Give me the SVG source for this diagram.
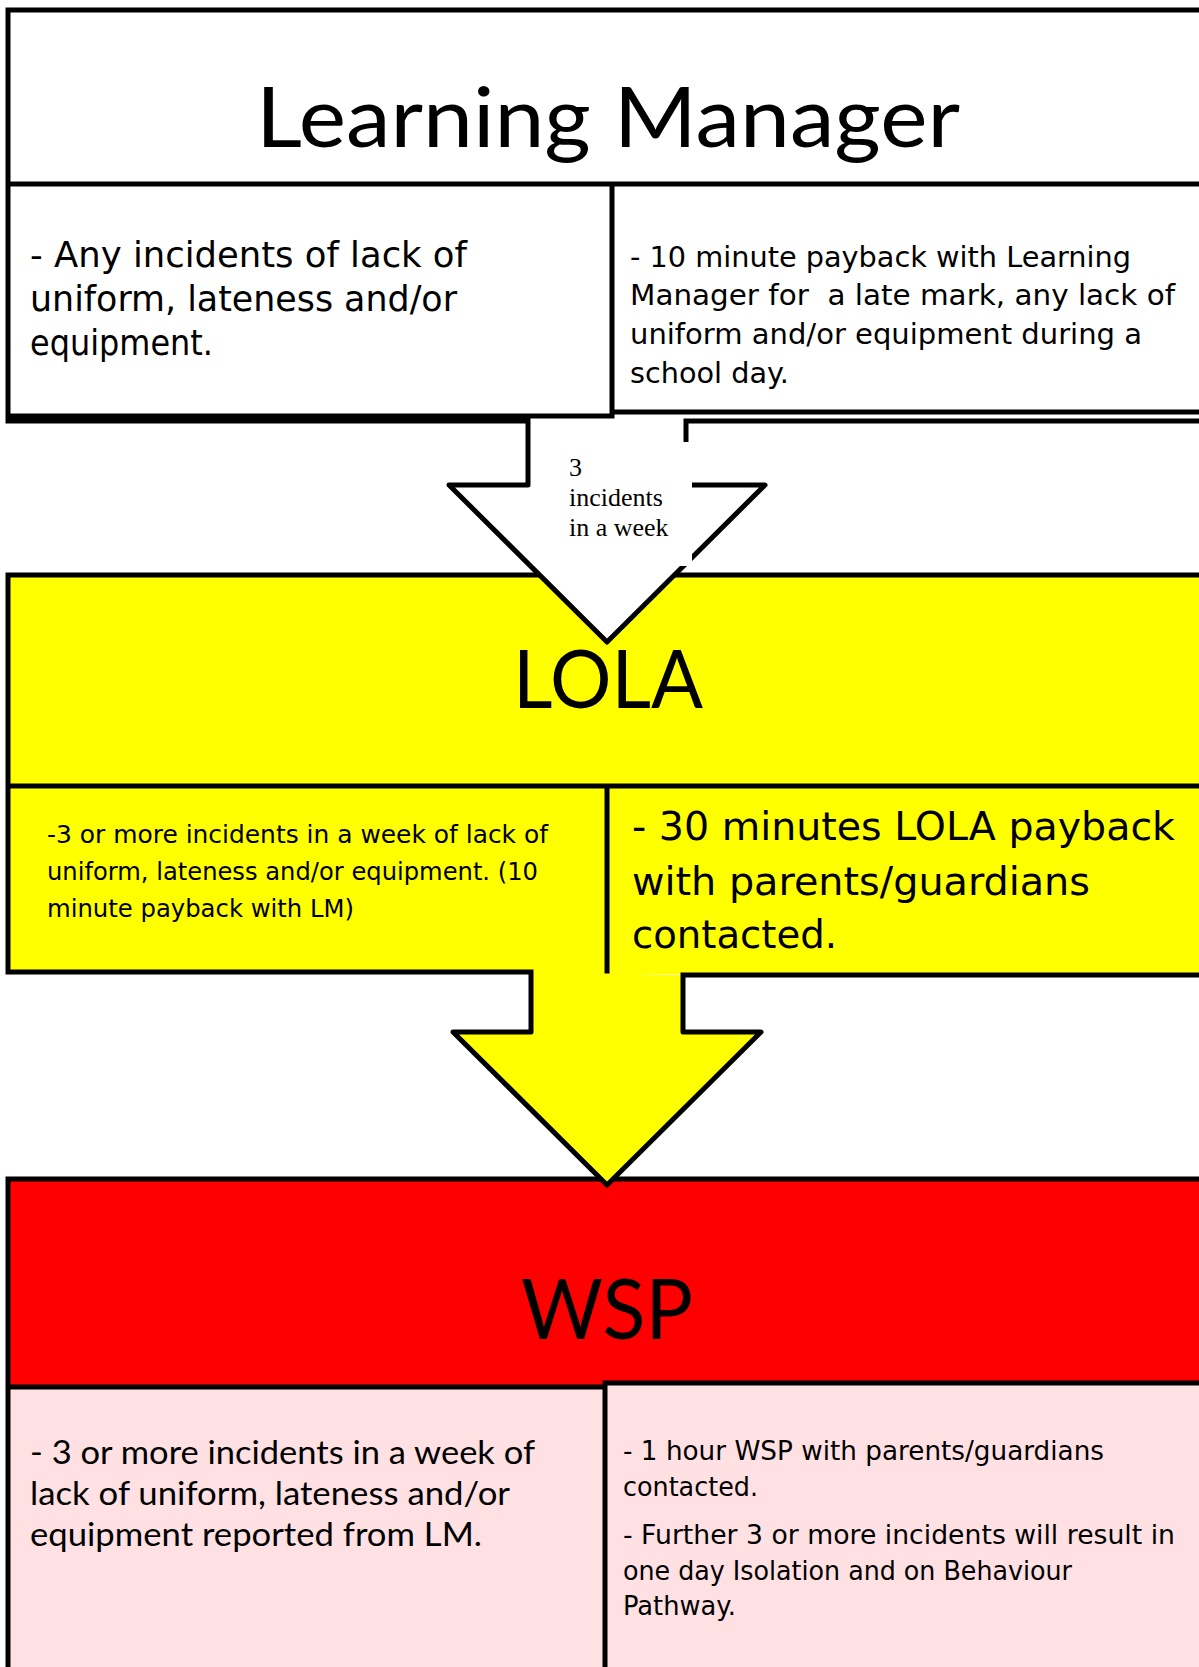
<svg xmlns="http://www.w3.org/2000/svg" width="1199" height="1667" viewBox="0 0 1199 1667">
<style>
.ln{fill:none;stroke:#000;stroke-width:5;stroke-linejoin:round;stroke-linecap:square}
.hd{font-family:Lato,"Noto Sans",sans-serif;fill:#000;text-anchor:middle}
.cm{font-family:"DejaVu Sans",sans-serif;fill:#000}
.cb{font-family:Lato,"Noto Sans",sans-serif;fill:#000;font-size:32px}
.lb{font-family:"Liberation Serif","Times New Roman",serif;font-size:26px;fill:#000}
</style>
<rect x="0" y="0" width="1199" height="1667" fill="#fff"/>

<g id="learning-manager">
  <rect x="8" y="10" width="1200" height="405" fill="#fff"/>
  <path class="ln" d="M8,10 H1210 M8,10 V416 M8,184 H1210 M612,184 V416 M8,416 H612 M612,412 H1210 M8,421 H528 M686,421 H1210"/>
  <text class="hd" x="608" y="147" font-size="84" textLength="704" lengthAdjust="spacingAndGlyphs">Learning Manager</text>
  <g class="cm" font-size="35">
    <text x="30" y="267" textLength="437" lengthAdjust="spacingAndGlyphs">- Any incidents of lack of</text>
    <text x="30" y="311" textLength="427" lengthAdjust="spacingAndGlyphs">uniform, lateness and/or</text>
    <text x="30" y="355" textLength="183" lengthAdjust="spacingAndGlyphs">equipment.</text>
  </g>
  <g class="cm" font-size="28.5">
    <text x="630" y="267" textLength="501" lengthAdjust="spacingAndGlyphs">- 10 minute payback with Learning</text>
    <text x="630" y="305" textLength="545" lengthAdjust="spacingAndGlyphs" xml:space="preserve">Manager for  a late mark, any lack of</text>
    <text x="630" y="344" textLength="512" lengthAdjust="spacingAndGlyphs">uniform and/or equipment during a</text>
    <text x="630" y="383" textLength="159" lengthAdjust="spacingAndGlyphs">school day.</text>
  </g>
</g>

<g id="wsp">
  <rect x="8" y="1179" width="1200" height="210" fill="#f00"/>
  <rect x="8" y="1385" width="597" height="290" fill="#ffe1e4"/>
  <rect x="605" y="1383" width="605" height="292" fill="#ffe1e4"/>
  <path class="ln" d="M8,1179 H1210 M8,1179 V1672 M8,1387 H605 M605,1383 H1210 M605,1383 V1672"/>
  <text class="hd" x="607" y="1339" font-size="84" textLength="172" lengthAdjust="spacingAndGlyphs">WSP</text>
  <g class="cb">
    <text x="30" y="1464" textLength="505" lengthAdjust="spacingAndGlyphs">- 3 or more incidents in a week of</text>
    <text x="30" y="1505" textLength="480" lengthAdjust="spacingAndGlyphs">lack of uniform, lateness and/or</text>
    <text x="30" y="1546" textLength="452" lengthAdjust="spacingAndGlyphs">equipment reported from LM.</text>
  </g>
  <g class="cm" font-size="26">
    <text x="623" y="1460" textLength="481" lengthAdjust="spacingAndGlyphs">- 1 hour WSP with parents/guardians</text>
    <text x="623" y="1496" textLength="135" lengthAdjust="spacingAndGlyphs">contacted.</text>
    <text x="623" y="1544" textLength="552" lengthAdjust="spacingAndGlyphs">- Further 3 or more incidents will result in</text>
    <text x="623" y="1580" textLength="449" lengthAdjust="spacingAndGlyphs">one day Isolation and on Behaviour</text>
    <text x="623" y="1615" textLength="113" lengthAdjust="spacingAndGlyphs">Pathway.</text>
  </g>
</g>

<g id="lola">
  <rect x="8" y="575" width="1200" height="399" fill="#ff0"/>
  <path class="ln" d="M8,575 H1210 M8,575 V972 M8,786 H1210 M607,786 V974 M8,972 H531 M683,975 H1210"/>
  <text class="hd" x="608" y="708" font-size="82" textLength="190" lengthAdjust="spacingAndGlyphs">LOLA</text>
  <g class="cm" font-size="25">
    <text x="47" y="843" textLength="501" lengthAdjust="spacingAndGlyphs">-3 or more incidents in a week of lack of</text>
    <text x="47" y="880" textLength="491" lengthAdjust="spacingAndGlyphs">uniform, lateness and/or equipment. (10</text>
    <text x="47" y="917" textLength="307" lengthAdjust="spacingAndGlyphs">minute payback with LM)</text>
  </g>
  <g class="cm" font-size="39.5">
    <text x="632" y="840" textLength="543" lengthAdjust="spacingAndGlyphs">- 30 minutes LOLA payback</text>
    <text x="632" y="895" textLength="458" lengthAdjust="spacingAndGlyphs">with parents/guardians</text>
    <text x="632" y="948" textLength="205" lengthAdjust="spacingAndGlyphs">contacted.</text>
  </g>
</g>

<g id="connectors">
  <g id="arrow-lm-lola">
    <path d="M528,421 V485 H449 L607,642 L765,485 H686 V421" fill="#fff" stroke="#000" stroke-width="5" stroke-linejoin="round"/>
    <rect x="556" y="442" width="136" height="124" fill="#fff"/>
    <text class="lb" x="569" y="476">3</text>
    <text class="lb" x="569" y="506">incidents</text>
    <text class="lb" x="569" y="536">in a week</text>
  </g>
  <path id="arrow-lola-wsp" d="M531,972 V1032 H453 L607,1185 L761,1032 H683 V975" fill="#ff0" stroke="#000" stroke-width="5" stroke-linejoin="round"/>
</g>
</svg>
